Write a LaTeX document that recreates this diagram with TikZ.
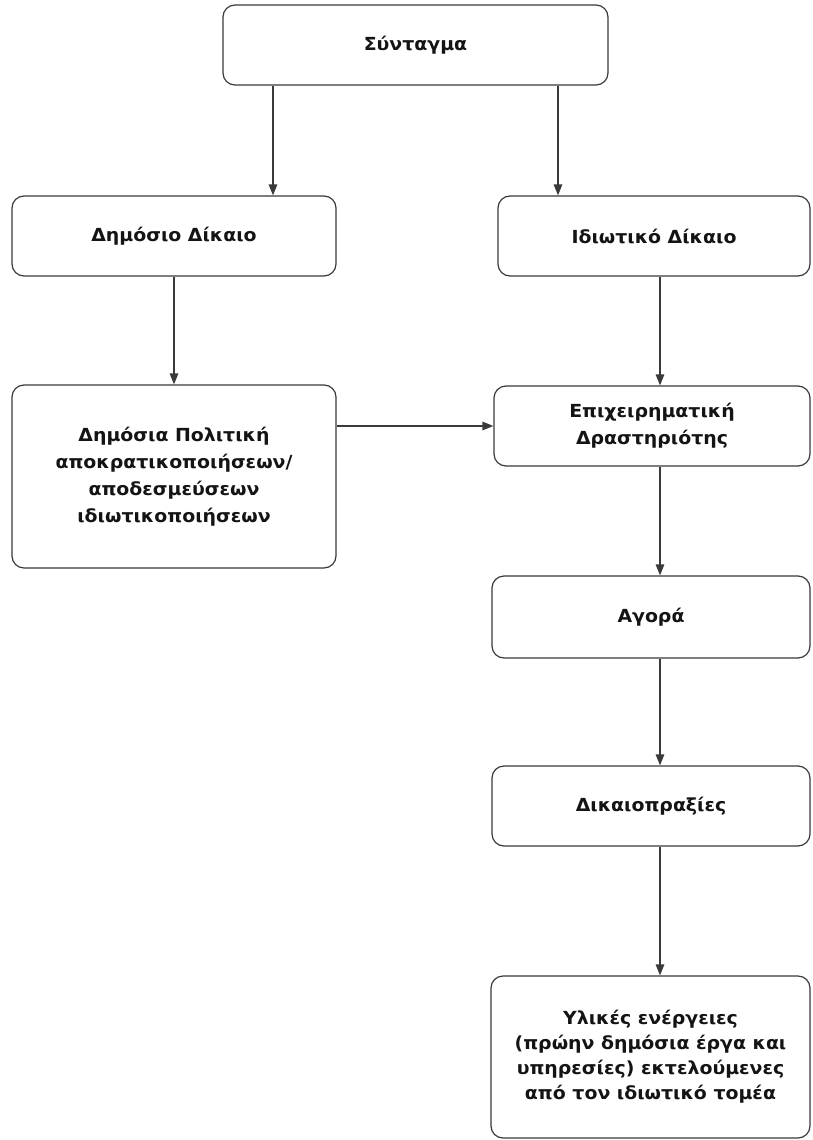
\documentclass[tikz,border=0pt]{standalone}
\usepackage{fontspec}
\setmainfont[FakeStretch=1.05]{DejaVu Sans}
\usetikzlibrary{arrows.meta}

\definecolor{ink}{HTML}{141414}
\definecolor{edge}{HTML}{3A3A3A}

\tikzset{
  box/.style={draw=edge, line width=1.2pt, rounded corners=12pt, align=center,
    text=ink, font=\bfseries\fontsize{18}{27}\selectfont, inner sep=4pt},
  arr/.style={draw=edge, line width=1.3pt,
    -{Triangle[length=11pt,width=8.5pt]}},
}

\begin{document}
\begin{tikzpicture}[x=1pt,y=-1pt]
  \fill[white] (0,0) rectangle (812,1140);
  \useasboundingbox (0,0) rectangle (812,1140);

  % left and top column
  \node[box, minimum width=385pt, minimum height=80pt] (synt) at (415.5,45) {Σύνταγμα};
  \node[box, minimum width=324pt, minimum height=80pt] (dimos) at (174,236) {Δημόσιο Δίκαιο};
  \node[box, minimum width=324pt, minimum height=183pt] (polit) at (174,476.5)
    {Δημόσια Πολιτική\\αποκρατικοποιήσεων/\\αποδεσμεύσεων\\ιδιωτικοποιήσεων};

  % right column
  \node[box, minimum width=312pt, minimum height=80pt] (idiot) at (654,236) {Ιδιωτικό Δίκαιο};
  \node[box, minimum width=316pt, minimum height=80pt] (epix) at (652,426)
    {Επιχειρηματική\\Δραστηριότης};
  \node[box, minimum width=318pt, minimum height=82pt] (agora) at (651,617) {Αγορά};
  \node[box, minimum width=318pt, minimum height=80pt] (dikaio) at (651,806) {Δικαιοπραξίες};
  \node[box, minimum width=319pt, minimum height=162pt,
        font=\bfseries\fontsize{18}{25}\selectfont] (ylikes) at (650.5,1057)
    {Υλικές ενέργειες\\(πρώην δημόσια έργα και\\υπηρεσίες) εκτελούμενες\\από τον ιδιωτικό τομέα};

  % connectors
  \coordinate (sL) at ([xshift=-142.5pt]synt.south);
  \coordinate (sR) at ([xshift=142.5pt]synt.south);
  \coordinate (rc) at ([xshift=6pt]idiot.south);
  \draw[arr] (sL) -- (sL |- dimos.north);
  \draw[arr] (sR) -- (sR |- idiot.north);
  \draw[arr] (dimos) -- (polit);
  \draw[arr] (rc) -- (rc |- epix.north);
  \draw[arr] (epix.west -| polit.east) -- (epix.west);
  \draw[arr] (rc |- epix.south) -- (rc |- agora.north);
  \draw[arr] (rc |- agora.south) -- (rc |- dikaio.north);
  \draw[arr] (rc |- dikaio.south) -- (rc |- ylikes.north);
\end{tikzpicture}
\end{document}
